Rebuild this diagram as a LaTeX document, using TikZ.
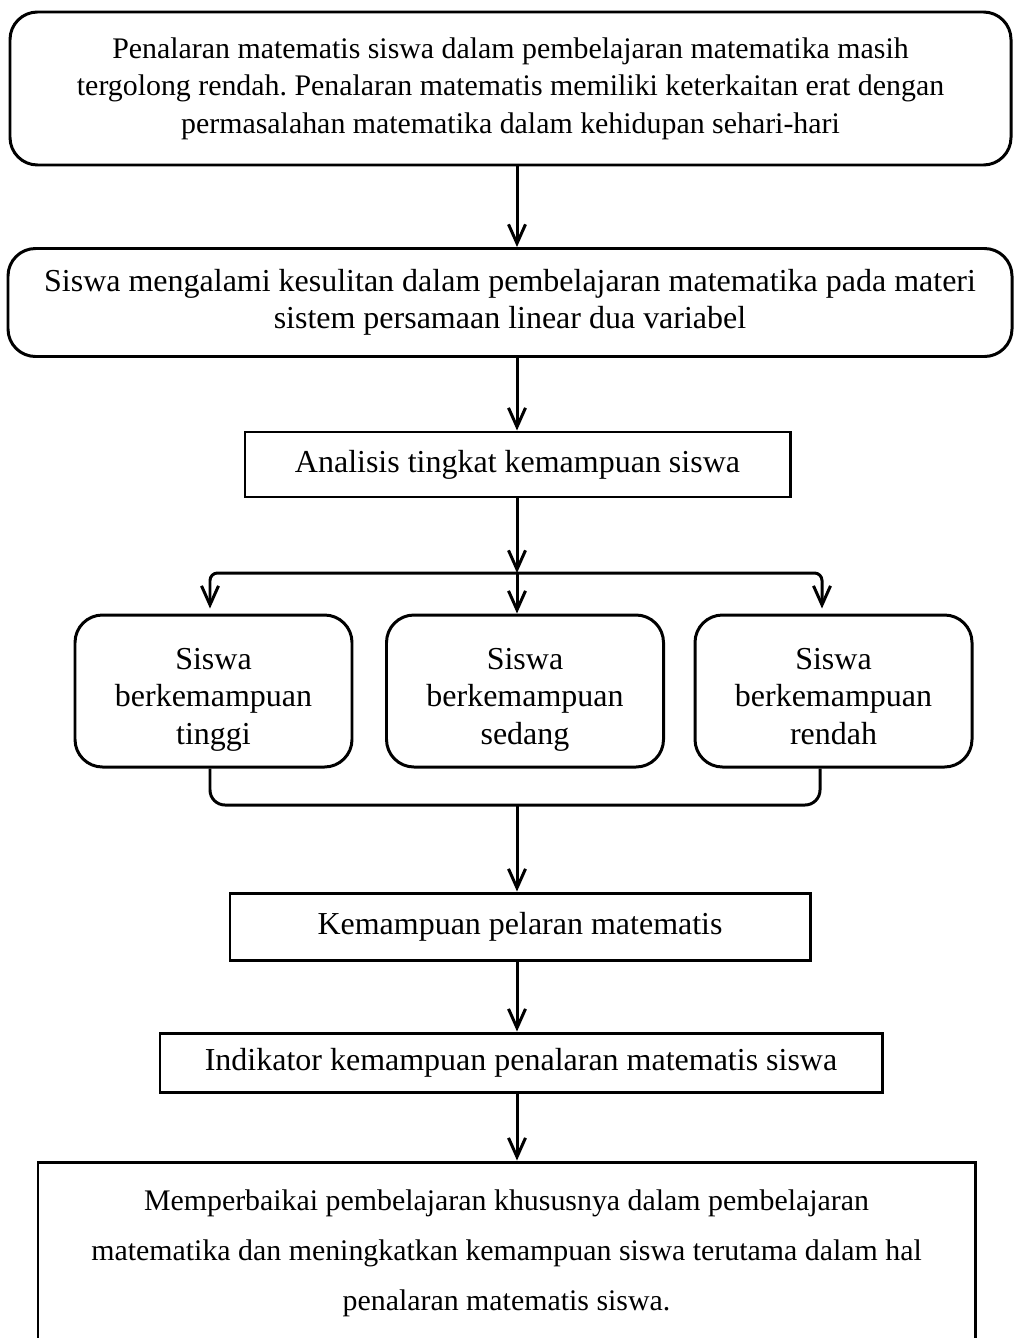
\documentclass[tikz,border=0pt]{standalone}
\usepackage{fontspec}
\setmainfont{Liberation Serif}
\usetikzlibrary{arrows.meta}
\frenchspacing

\begin{document}
\begin{tikzpicture}[
    font=\fontsize{18.2}{21.3}\selectfont,
    rbox/.style={draw, line width=1.7pt, rounded corners=0.55cm, align=center, inner sep=0pt},
    sbox/.style={draw, line width=1.7pt, align=center, inner sep=0pt},
    arr/.style={line width=1.7pt, -{Straight Barb[length=0.38cm, width=0.34cm, line width=1.7pt]}},
    conn/.style={line width=1.7pt}
  ]
                    \useasboundingbox (0,0) rectangle (20.28,-26.76);
                    \node[rbox, minimum width=20.02cm, minimum height=3.06cm, font=\fontsize{17}{21.3}\selectfont] (masalah) at (10.21, -1.77) {Penalaran matematis siswa dalam pembelajaran matematika masih\\tergolong rendah. Penalaran matematis memiliki keterkaitan erat dengan\\permasalahan matematika dalam kehidupan sehari-hari};
                    \node[rbox, minimum width=20.08cm, minimum height=2.16cm] (kesulitan) at (10.2, -6.05) {Siswa mengalami kesulitan dalam pembelajaran matematika pada materi\\sistem persamaan linear dua variabel};
                    \node[sbox, minimum width=10.9cm, minimum height=1.3cm] (analisis) at (10.35, -9.29) {Analisis tingkat kemampuan siswa};
                    \node[rbox, minimum width=5.54cm, minimum height=3.04cm] (tinggi) at (4.27, -13.82) {\rule{0pt}{0.86cm}Siswa\\berkemampuan\\tinggi\strut};
                    \node[rbox, minimum width=5.54cm, minimum height=3.04cm] (sedang) at (10.5, -13.82) {\rule{0pt}{0.86cm}Siswa\\berkemampuan\\sedang\strut};
                    \node[rbox, minimum width=5.54cm, minimum height=3.04cm] (rendah) at (16.67, -13.82) {\rule{0pt}{0.86cm}Siswa\\berkemampuan\\rendah\strut};
                    \node[sbox, minimum width=11.6cm, minimum height=1.34cm] (penalaran) at (10.4, -18.53) {Kemampuan pelaran matematis};
                    \node[sbox, minimum width=14.44cm, minimum height=1.18cm] (indikator) at (10.42, -21.25) {Indikator kemampuan penalaran matematis siswa};
                    \node[sbox, minimum width=18.74cm, minimum height=3.66cm, font=\fontsize{17}{28.5}\selectfont] (perbaikan) at (10.13, -25.07) {Memperbaikai pembelajaran khususnya dalam pembelajaran\\matematika dan meningkatkan kemampuan siswa terutama dalam hal\\penalaran matematis siswa.};
                    \coordinate (cabang) at (10.34, -11.46);
                    \coordinate (gabung) at (10.34, -16.1);
                    \draw[arr] (masalah.south -| cabang) -- (kesulitan.north -| cabang);
                    \draw[arr] (kesulitan.south -| cabang) -- (analisis.north -| cabang);
                    \draw[arr] (analisis.south -| cabang) -- (cabang);
                    \draw[arr] (cabang) -- (sedang.north -| cabang);
                    \draw[arr, rounded corners=0.15cm] (cabang) -| ([xshift=-0.07cm, yshift=0.1cm]tinggi.north);
                    \draw[arr, rounded corners=0.15cm] (cabang) -| ([xshift=-0.23cm, yshift=0.1cm]rendah.north);
                    \draw[conn, rounded corners=0.3cm] ([xshift=-0.07cm]tinggi.south) |- (gabung) -| ([xshift=-0.27cm]rendah.south);
                    \draw[arr] (gabung) -- (penalaran.north -| gabung);
                    \draw[arr] (penalaran.south -| gabung) -- (indikator.north -| gabung);
                    \draw[arr] (indikator.south -| gabung) -- (perbaikan.north -| gabung);
                \end{tikzpicture}
\end{document}
